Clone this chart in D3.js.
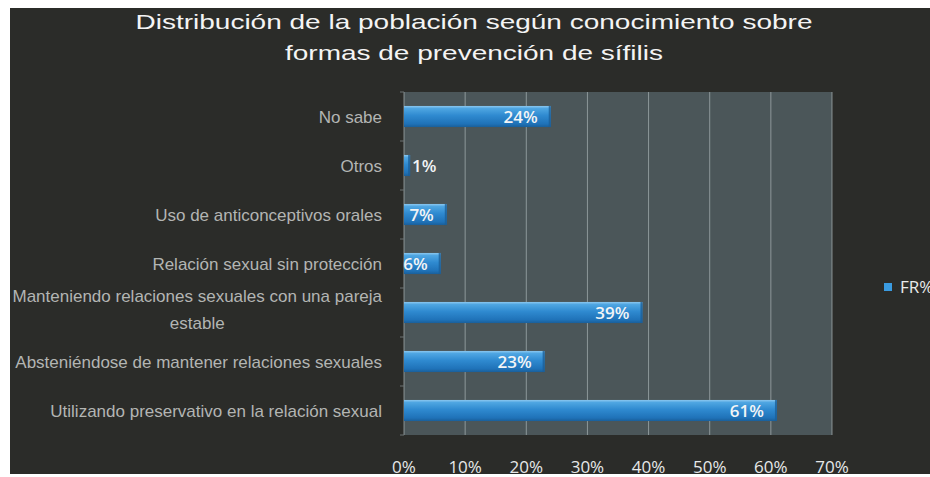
<!DOCTYPE html>
<html>
<head>
<meta charset="utf-8">
<script src="https://cdn.jsdelivr.net/npm/d3@7"></script>
<style>
  html, body { margin: 0; padding: 0; background: #ffffff; }
  svg { display: block; }
</style>
</head>
<body>
<svg id="chart" width="930" height="477"></svg>
<script>
// Categories, listed from the top bar to the bottom bar
const categories = [
  "No sabe",
  "Otros",
  "Uso de anticonceptivos orales",
  "Relación sexual sin protección",
  "Manteniendo relaciones sexuales con una pareja estable",
  "Absteniéndose de mantener relaciones sexuales",
  "Utilizando preservativo en la relación sexual"
];
// FR% per category
const values = [24, 1, 7, 6, 39, 23, 61];
const tickValues = [0, 10, 20, 30, 40, 50, 60, 70];
const titleLines = [
  "Distribución de la población según conocimiento sobre",
  "formas de prevención de sífilis"
];
const seriesName = "FR%";

const W = 930, H = 477;
const svg = d3.select("#chart");
const defs = svg.append("defs");

// Bar shading: bright top edge fading to a deeper blue underneath
const grad = defs.append("linearGradient")
  .attr("id", "barGrad").attr("x1", 0).attr("y1", 0).attr("x2", 0).attr("y2", 1);
[[0, "#8cc8f0"], [0.12, "#4fa6e2"], [0.45, "#2f8ad0"], [0.85, "#1f72b8"], [1, "#1a5f9a"]]
  .forEach(([o, c]) => grad.append("stop").attr("offset", o).attr("stop-color", c));

// Dark slide background
svg.append("rect").attr("x", 10).attr("y", 8).attr("width", W - 10).attr("height", 466)
  .attr("fill", "#2b2c29");

// Plot area
const plot = { left: 404, right: 832, top: 92, bottom: 435 };
const x = d3.scaleLinear().domain([0, 70]).range([plot.left, plot.right]);
const y = d3.scaleBand().domain(categories).range([plot.top, plot.bottom]).paddingInner(0.57).paddingOuter(0.285);

svg.append("rect")
  .attr("x", plot.left).attr("y", plot.top)
  .attr("width", plot.right - plot.left).attr("height", plot.bottom - plot.top)
  .attr("fill", "#4b5659");

// Vertical gridlines
svg.append("g")
  .selectAll("line").data(tickValues).join("line")
  .attr("x1", d => x(d)).attr("x2", d => x(d))
  .attr("y1", plot.top).attr("y2", plot.bottom)
  .attr("stroke", "#a4aeb0").attr("stroke-width", 1).attr("opacity", 0.75);

// Small tick marks on the category axis
svg.append("g")
  .selectAll("line").data(d3.range(categories.length + 1)).join("line")
  .attr("x1", plot.left - 4).attr("x2", plot.left)
  .attr("y1", i => plot.top + i * (plot.bottom - plot.top) / categories.length)
  .attr("y2", i => plot.top + i * (plot.bottom - plot.top) / categories.length)
  .attr("stroke", "#6d7274").attr("stroke-width", 1);

// Bars
const bars = svg.append("g");
bars.selectAll("rect.bar").data(values).join("rect")
  .attr("class", "bar")
  .attr("x", x(0))
  .attr("y", (d, i) => y(categories[i]))
  .attr("width", d => x(d) - x(0))
  .attr("height", y.bandwidth())
  .attr("fill", "url(#barGrad)");
// darker end cap
bars.selectAll("rect.cap").data(values).join("rect")
  .attr("class", "cap")
  .attr("x", d => x(d) - 2)
  .attr("y", (d, i) => y(categories[i]))
  .attr("width", 2)
  .attr("height", y.bandwidth())
  .attr("fill", "#1b5f98").attr("opacity", 0.8);

// Value labels at the inside end of each bar
svg.append("g")
  .selectAll("text").data(values).join("text")
  .attr("x", d => d < 3 ? x(d) + 2 : x(d) - 13)
  .attr("y", (d, i) => y(categories[i]) + y.bandwidth() / 2)
  .attr("dy", "0.36em")
  .attr("text-anchor", d => d < 3 ? "start" : "end")
  .attr("font-family", "'Open Sans', sans-serif")
  .attr("font-size", 17)
  .attr("font-weight", 600)
  .attr("fill", "#f2f4f6")
  .text(d => d + "%");

// Category labels, wrapped lines centred on each other, block right-aligned
const labelRight = 382;
const maxLabelWidth = 376;
const catG = svg.append("g")
  .attr("font-family", "'Liberation Sans', Arial, sans-serif")
  .attr("font-size", 17)
  .attr("fill", "#b3b5b3");

categories.forEach((cat, i) => {
  const cy = y(cat) + y.bandwidth() / 2;
  const t = catG.append("text").attr("text-anchor", "middle");
  const words = cat.split(" ");
  const lines = [];
  let line = [];
  const probe = catG.append("text");
  words.forEach(w => {
    const trial = line.concat(w).join(" ");
    probe.text(trial);
    if (probe.node().getComputedTextLength() > maxLabelWidth && line.length) {
      lines.push(line.join(" "));
      line = [w];
    } else {
      line.push(w);
    }
  });
  lines.push(line.join(" "));
  const widths = lines.map(l => { probe.text(l); return probe.node().getComputedTextLength(); });
  probe.remove();
  const blockW = d3.max(widths);
  const lh = 27;
  const firstY = cy - (lines.length - 1) * lh / 2 + (lines.length > 1 ? -3 : 0);
  lines.forEach((l, k) => {
    t.append("tspan")
      .attr("x", labelRight - blockW / 2)
      .attr("y", firstY + k * lh)
      .attr("dy", "0.36em")
      .text(l);
  });
});

// Value axis tick labels
svg.append("g")
  .attr("font-family", "'Open Sans', sans-serif")
  .attr("font-size", 17)
  .attr("fill", "#e6e8e8")
  .selectAll("text").data(tickValues).join("text")
  .attr("x", d => x(d))
  .attr("y", 473)
  .attr("text-anchor", "middle")
  .text(d => d + "%");

// Title, stretched to the slide's title width
const titleWidths = [677, 378];
svg.append("g")
  .attr("font-family", "'Liberation Sans', Arial, sans-serif")
  .attr("font-size", 21)
  .attr("fill", "#f4f4f4")
  .selectAll("text").data(titleLines).join("text")
  .attr("x", (d, i) => 474 - titleWidths[i] / 2)
  .attr("y", (d, i) => 29 + i * 31)
  .attr("textLength", (d, i) => titleWidths[i])
  .attr("lengthAdjust", "spacingAndGlyphs")
  .text(d => d);

// Legend
const lg = svg.append("g");
lg.append("rect").attr("x", 884).attr("y", 283).attr("width", 8).attr("height", 8)
  .attr("fill", "#3a9be0");
lg.append("text").attr("x", 900).attr("y", 293)
  .attr("font-family", "'Open Sans', sans-serif")
  .attr("font-size", 17)
  .attr("fill", "#e8eaea")
  .text(seriesName);

// Bottom paper margin
svg.append("rect").attr("x", 0).attr("y", 474).attr("width", W).attr("height", 3).attr("fill", "#ffffff");
</script>
</body>
</html>
